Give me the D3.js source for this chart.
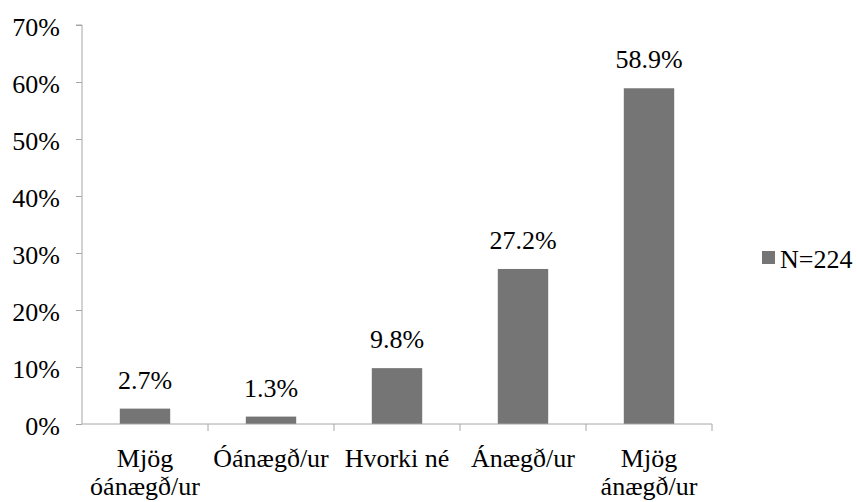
<!DOCTYPE html>
<html>
<head>
<meta charset="utf-8">
<script src="https://cdn.jsdelivr.net/npm/d3@7"></script>
<style>
  body { margin: 0; background: #fff; }
</style>
</head>
<body>
<script>
// chart values
const categories = [["Mjög", "óánægð/ur"], ["Óánægð/ur"], ["Hvorki né"], ["Ánægð/ur"], ["Mjög", "ánægð/ur"]];
const values = [2.7, 1.3, 9.8, 27.2, 58.9];
const yTicks = [0, 10, 20, 30, 40, 50, 60, 70];
const seriesName = "N=224";

const width = 857;
const height = 502;
const marginLeft = 82;
const plotRight = 712;
const marginTop = 25;
const plotBottom = 424;
const fontSize = 26;
const barColor = "#757575";
const axisColor = "#a6a6a6";

const svg = d3
  .select("body")
  .append("svg")
  .attr("width", width)
  .attr("height", height);

// serif font on every text, forced
function setFont(sel) {
  return sel
    .style("font-family", `"Liberation Serif", "Times New Roman", Tinos`, "important")
    .attr("font-size", fontSize)
    .attr("fill", "#000");
}

const I = d3.range(values.length);

const xScale = d3
  .scaleBand(I, [marginLeft, plotRight])
  .paddingInner(0.6)
  .paddingOuter(0.3);
const yScale = d3.scaleLinear([0, 70], [plotBottom, marginTop]);

// y axis: line and ticks from the d3 axis, labels as plain svg texts
const yAxis = d3
  .axisLeft(yScale)
  .tickValues(yTicks)
  .tickSize(6)
  .tickFormat("");

svg
  .append("g")
  .attr("transform", `translate(${marginLeft},0)`)
  .call(yAxis)
  .call((g) => g.select(".domain").attr("stroke", axisColor).attr("d", `M-6,${marginTop}H0V${plotBottom}`))
  .call((g) => g.selectAll(".tick line").attr("stroke", axisColor))
  .call((g) => g.selectAll(".tick text").remove());

svg
  .selectAll("text.ytick")
  .data(yTicks)
  .join("text")
  .attr("class", "ytick")
  .call(setFont)
  .attr("text-anchor", "end")
  .attr("x", marginLeft - 22)
  .attr("y", (d) => yScale(d))
  .attr("dy", "0.42em")
  .text((d) => d + "%");

// bars
svg
  .append("g")
  .attr("fill", barColor)
  .selectAll("rect")
  .data(I)
  .join("rect")
  .attr("x", (i) => xScale(i))
  .attr("y", (i) => yScale(values[i]))
  .attr("width", xScale.bandwidth())
  .attr("height", (i) => yScale(0) - yScale(values[i]));

// value labels
svg
  .selectAll("text.value")
  .data(I)
  .join("text")
  .attr("class", "value")
  .call(setFont)
  .attr("text-anchor", "middle")
  .attr("x", (i) => xScale(i) + xScale.bandwidth() / 2)
  .attr("y", (i) => yScale(values[i]) - 20)
  .text((i) => values[i].toFixed(1) + "%");

// x axis: line with ticks at category boundaries
const step = xScale.step();
const boundaries = d3.range(values.length + 1).map((k) => marginLeft + k * step);
const xAxisG = svg.append("g").attr("stroke", axisColor).attr("fill", "none");
xAxisG
  .append("path")
  .attr("d", `M${marginLeft},${plotBottom}H${plotRight}`);
xAxisG
  .selectAll("line")
  .data(boundaries.slice(1))
  .join("line")
  .attr("x1", (d) => d)
  .attr("x2", (d) => d)
  .attr("y1", plotBottom)
  .attr("y2", plotBottom + 7);

// category labels, one text per line
const catLines = I.flatMap((i) => categories[i].map((t, j) => ({ t, i, j })));
svg
  .selectAll("text.cat")
  .data(catLines)
  .join("text")
  .attr("class", "cat")
  .call(setFont)
  .attr("text-anchor", "middle")
  .attr("x", (d) => xScale(d.i) + xScale.bandwidth() / 2)
  .attr("y", (d) => 467 + d.j * 28)
  .text((d) => d.t);

// legend
svg
  .append("rect")
  .attr("x", 762)
  .attr("y", 251)
  .attr("width", 13)
  .attr("height", 13)
  .attr("fill", barColor);
svg
  .append("text")
  .attr("class", "legend")
  .call(setFont)
  .attr("x", 780)
  .attr("y", 268)
  .text(seriesName);
</script>
</body>
</html>
